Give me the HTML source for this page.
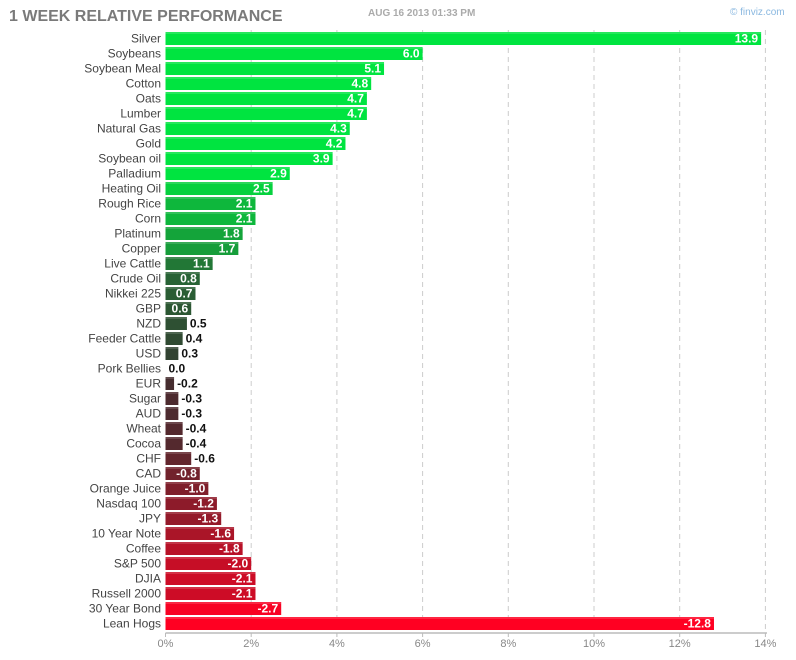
<!DOCTYPE html>
<html><head><meta charset="utf-8"><style>
body{margin:0;background:#fff;width:796px;height:655px;overflow:hidden;font-family:"Liberation Sans",Arial,sans-serif}
</style></head><body>
<svg id="s" width="796" height="655" xmlns="http://www.w3.org/2000/svg" font-family="Liberation Sans, Arial, sans-serif">
<text x="9" y="21" font-size="16" font-weight="bold" fill="#7a7a7a">1 WEEK RELATIVE PERFORMANCE</text>
<text x="368" y="16" font-size="10" font-weight="bold" fill="#aaa">AUG 16 2013 01:33 PM</text>
<text x="730" y="15" font-size="10" fill="#8ab8e0">© finviz.com</text>
</svg>
<script>
var d=[["Silver",13.9],["Soybeans",6.0],["Soybean Meal",5.1],["Cotton",4.8],["Oats",4.7],["Lumber",4.7],["Natural Gas",4.3],["Gold",4.2],["Soybean oil",3.9],["Palladium",2.9],["Heating Oil",2.5],["Rough Rice",2.1],["Corn",2.1],["Platinum",1.8],["Copper",1.7],["Live Cattle",1.1],["Crude Oil",0.8],["Nikkei 225",0.7],["GBP",0.6],["NZD",0.5],["Feeder Cattle",0.4],["USD",0.3],["Pork Bellies",0.0],["EUR",-0.2],["Sugar",-0.3],["AUD",-0.3],["Wheat",-0.4],["Cocoa",-0.4],["CHF",-0.6],["CAD",-0.8],["Orange Juice",-1.0],["Nasdaq 100",-1.2],["JPY",-1.3],["10 Year Note",-1.6],["Coffee",-1.8],["S&P 500",-2.0],["DJIA",-2.1],["Russell 2000",-2.1],["30 Year Bond",-2.7],["Lean Hogs",-12.8]];
var x0=165.5,sc=42.85,h='';
for(var g=2;g<=14;g+=2){var x=x0+g*sc;h+='<line x1="'+x+'" y1="30" x2="'+x+'" y2="633" stroke="#ccc" stroke-dasharray="5,4"/>';}
function col(v){var t=Math.min(Math.abs(v)/2.8,1),b=[56,48,48],e=v>=0?[0,228,64]:[255,0,34];return 'rgb('+b.map(function(c,i){return Math.round(c+(e[i]-c)*t)}).join(',')+')';}
d.forEach(function(r,i){var cy=38+15*i,v=r[1],w=Math.abs(v)*sc,y=cy-6;
h+='<text x="161" y="'+(cy+4.5)+'" font-size="12" fill="#444" text-anchor="end">'+r[0].replace('&','&amp;')+'</text>';
if(w>0)h+='<rect x="'+x0+'" y="'+y+'" width="'+w+'" height="13" fill="'+col(v)+'"/><rect x="'+x0+'" y="'+y+'" width="'+w+'" height="2" fill="#fff" opacity="0.15"/>';
var s=v.toFixed(1),inside=Math.abs(v)>=0.6&&v!=-0.6;
if(inside)h+='<text x="'+(x0+w-3)+'" y="'+(cy+4.5)+'" font-size="12" font-weight="bold" fill="#fff" text-anchor="end">'+s+'</text>';
else h+='<text x="'+(x0+w+3)+'" y="'+(cy+4.5)+'" font-size="12" font-weight="bold" fill="#111">'+s+'</text>';
});
h+='<line x1="'+x0+'" y1="633" x2="767" y2="633" stroke="#bbb" stroke-width="1.5"/>';
for(var g=0;g<=14;g+=2){var x=x0+g*sc;h+='<line x1="'+x+'" y1="633" x2="'+x+'" y2="637" stroke="#bbb"/><text x="'+x+'" y="647" font-size="11" fill="#888" text-anchor="middle">'+g+'%</text>';}
document.getElementById('s').insertAdjacentHTML('beforeend',h);
</script>
</body></html>
